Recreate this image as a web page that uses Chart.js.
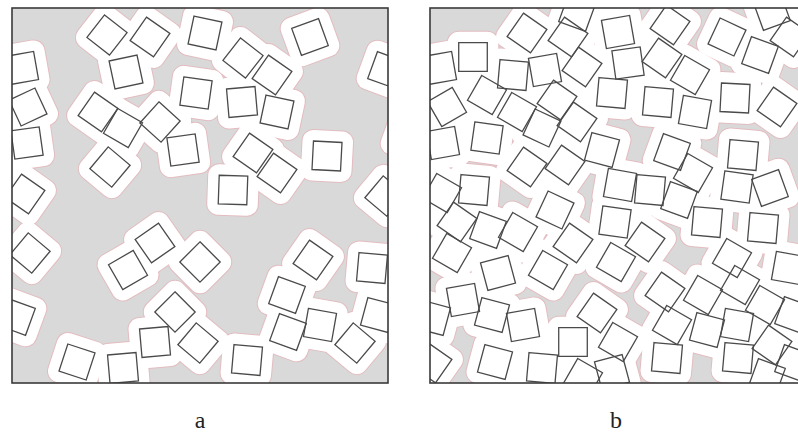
<!DOCTYPE html>
<html>
<head>
<meta charset="utf-8">
<script src="https://cdn.jsdelivr.net/npm/chart.js@4.4.1/dist/chart.umd.min.js"></script>
<style>
  html, body { margin: 0; padding: 0; width: 798px; height: 435px; overflow: hidden; background: #fff; }
  canvas { position: absolute; }
  .lbl { position: absolute; width: 40px; text-align: center; font-family: "Liberation Serif", "DejaVu Serif", serif;
         font-size: 24px; line-height: 24px; color: #222; }
</style>
</head>
<body>
<canvas id="panelA" width="380" height="379" style="left:10px;top:6px"></canvas>
<canvas id="panelB" width="380" height="379" style="left:428px;top:6px"></canvas>
<div class="lbl" style="left:180px;top:408px">a</div>
<div class="lbl" style="left:596px;top:408px">b</div>
<script>
// Field extent (both panels share the same square field)
const FIELD_W = 376;
const FIELD_H = 375;

// Panel a: sparse packing — square centres and tilt (degrees, clockwise)
const aX = [95, 138, 193, 114, 184, 10, 16, 15, 13, 86, 111, 148, 98, 171,
            231, 260, 298, 230, 265, 241, 265, 315, 221, 374, 398, 373,
            18, 5, 143, 116, 188, 163, 143, 186, 65, 111, 301, 275, 360, 276, 308, 343, 366, 235];
const aY = [27, 29, 25, 64, 85, 60, 99, 135, 186, 104, 120, 114, 159, 142,
            50, 67, 29, 94, 104, 145, 165, 148, 182, 62, 127, 188,
            245, 309, 235, 262, 254, 304, 334, 335, 354, 360, 252, 287, 260, 324, 317, 335, 307, 352];
const aAngle = [38, 35, 12, -12, 8, -10, -25, -8, 35, 35, 30, 42, 40, -8,
                38, 35, -20, -5, 12, 35, 35, 3, 2, 20, 20, 40,
                40, 20, -35, -30, 45, 45, -5, 40, 18, -5, 35, 20, 5, 20, 10, 40, 15, 5];

// Panel b: dense packing
const bX = [147, 97, 138, 152, 43, 10, 83, 115, 57, 87, 127, 147, 17, 112, 13, 57, 97, 135, 172, 182, 188,
            44, 12, 240, 198, 232, 260, 297, 330, 342, 360, 228, 265, 305, 347, 242, 263, 313, 190, 220,
            249, 307, 340, 27, 58, 88, 125, 143, 185, 22, 68, 118, 186, 33, 62, 93, 167, 143, 3, 65,
            112, 153, 2, 182, 215, 277, 333, 302, 310, 358, 235, 273, 335, 363, 242, 277, 307, 342, 188,
            237, 308, 337, 363];
const bY = [5, 25, 29, 59, 49, 60, 67, 62, 87, 104, 92, 114, 99, 120, 135, 130, 159, 157, 142, 85, 24,
            182, 185, 17, 55, 50, 67, 29, 47, 4, 29, 94, 104, 90, 99, 144, 165, 147, 177, 182,
            192, 179, 180, 214, 222, 224, 202, 235, 214, 245, 265, 262, 254, 292, 307, 317, 305, 334, 310, 354,
            360, 370, 355, 364, 234, 214, 220, 250, 277, 260, 284, 287, 297, 307, 317, 322, 317, 337, 334,
            350, 350, 369, 355];
const bAngle = [20, 35, 35, 35, 0, -10, 5, -10, 30, 30, 35, 35, -30, 25, -10, 8, 35, 35, 15, 5, -10,
                5, 30, 35, -8, 35, 30, 25, 20, -20, 35, 5, 10, 3, 35, 20, 30, 5, 10, 5,
                20, 8, -20, 35, 20, 30, 25, 35, 8, 30, -15, 30, 30, -10, 15, -10, 35, 0, 15, 15,
                5, 30, 35, -15, 35, 5, 5, 30, 30, 10, 35, 30, 30, 20, 30, 15, 10, 35, 30,
                5, 5, 20, 20];

// Drawing parameters
const SQUARE_R = 20.2;       // half-diagonal of each square, px
const ZONE = 11;             // width of the exclusion band round every square, px
const BG_GREY = '#d9d9d9';
const ZONE_EDGE = '#e3bcc0';
const SQUARE_EDGE = '#4a4a4a';
const FRAME = '#3a3a3a';

const fieldPlugin = {
  id: 'field',
  beforeDatasetsDraw(chart) {
    const { ctx, chartArea: a } = chart;
    ctx.save();
    ctx.fillStyle = BG_GREY;
    ctx.fillRect(a.left, a.top, a.right - a.left, a.bottom - a.top);
    ctx.restore();
  },
  beforeDatasetDraw(chart, args) {
    // the bands are thick strokes: round joins turn each into an offset square
    chart.ctx.lineJoin = args.index > 0 ? 'round' : 'miter';
  },
  afterDatasetDraw(chart) {
    chart.ctx.lineJoin = 'miter';
  },
  afterDatasetsDraw(chart) {
    const { ctx, chartArea: a } = chart;
    ctx.save();
    ctx.strokeStyle = FRAME;
    ctx.lineWidth = 1.6;
    ctx.strokeRect(a.left, a.top, a.right - a.left, a.bottom - a.top);
    ctx.restore();
  }
};

function buildPanel(id, xs, ys, angles) {
  const pts = xs.map((x, i) => ({ x: x, y: ys[i] }));
  const shared = {
    data: pts,
    showLine: false,
    clip: 0,
    pointStyle: 'rect',
    pointRotation: angles,
    pointRadius: SQUARE_R,
    pointHoverRadius: SQUARE_R
  };
  new Chart(document.getElementById(id), {
    type: 'scatter',
    data: {
      datasets: [
        Object.assign({}, shared, {
          label: 'squares', order: 0,
          pointBackgroundColor: 'rgba(0,0,0,0)',
          pointBorderColor: SQUARE_EDGE, pointBorderWidth: 1.3
        }),
        Object.assign({}, shared, {
          label: 'zone', order: 1,
          pointBackgroundColor: '#ffffff',
          pointBorderColor: '#ffffff', pointBorderWidth: 2 * ZONE
        }),
        Object.assign({}, shared, {
          label: 'zone edge', order: 2,
          pointBackgroundColor: ZONE_EDGE,
          pointBorderColor: ZONE_EDGE, pointBorderWidth: 2 * ZONE + 2
        })
      ]
    },
    options: {
      responsive: false,
      animation: false,
      devicePixelRatio: 1,
      events: [],
      layout: { padding: 2, autoPadding: false },
      scales: {
        x: { type: 'linear', min: 0, max: FIELD_W, display: false },
        y: { type: 'linear', min: 0, max: FIELD_H, reverse: true, display: false }
      },
      plugins: { legend: { display: false }, tooltip: { enabled: false } }
    },
    plugins: [fieldPlugin]
  });
}

buildPanel('panelA', aX, aY, aAngle);
buildPanel('panelB', bX, bY, bAngle);
</script>
</body>
</html>
